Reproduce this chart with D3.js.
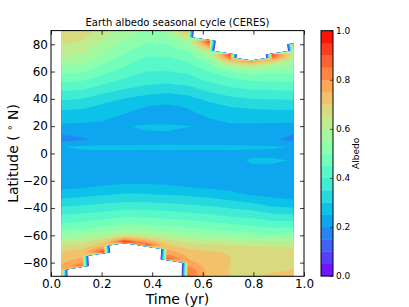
<!DOCTYPE html>
<html>
<head>
<meta charset="utf-8">
<script src="https://cdnjs.cloudflare.com/ajax/libs/d3/7.8.5/d3.min.js"></script>
<style>
  body { margin: 0; background: #fff; }
  text { font-family: "DejaVu Sans", sans-serif; fill: #000; }
</style>
</head>
<body>
<svg id="chart" width="409" height="307"></svg>
<script>
'use strict';

// monthly midpoints (fraction of year)
var times = [0.0417, 0.125, 0.2083, 0.2917, 0.375, 0.4583, 0.5417, 0.625, 0.7083, 0.7917, 0.875, 0.9583];

// latitude rows, south to north (finer near the poles)
var lats = [-90, -87.5, -85, -82.5, -80, -77.5, -75, -72.5, -70, -67.5, -65, -62.5, -60,
            -55, -50, -45, -40, -35, -30, -25, -20, -15, -10, -5, 0, 5, 10, 15, 20, 25, 30, 35, 40, 45, 50, 55,
            60, 62.5, 65, 67.5, 70, 72.5, 75, 77.5, 80, 82.5, 85, 87.5, 90];

// zonal mean albedo per month, one value per latitude row (null = polar night, no data)
var m01 = [0.79, 0.78, 0.77, 0.757, 0.745, 0.732, 0.72, 0.703, 0.685, 0.655, 0.62, 0.585, 0.55,
           0.483, 0.44, 0.40, 0.358, 0.315, 0.275, 0.24, 0.225, 0.22, 0.225, 0.235, 0.24, 0.249, 0.185, 0.205, 0.24, 0.265, 0.29, 0.322, 0.357, 0.395, 0.435, 0.475,
           0.52, 0.54, 0.56, 0.58, 0.60, 0.612, 0.625, 0.637, 0.65, 0.662, 0.675, 0.688, 0.70];
var m02 = [null, null, null, 0.86, 0.80, 0.76, 0.74, 0.72, 0.70, 0.67, 0.64, 0.60, 0.565,
           0.495, 0.45, 0.41, 0.368, 0.325, 0.285, 0.248, 0.228, 0.22, 0.225, 0.235, 0.24, 0.258, 0.196, 0.208, 0.24, 0.262, 0.285, 0.315, 0.35, 0.387, 0.425, 0.463,
           0.505, 0.525, 0.545, 0.565, 0.585, 0.598, 0.61, 0.622, 0.635, 0.648, 0.66, 0.67, 0.68];
var m03 = [null, null, null, null, null, null, null, 0.92, 0.82, 0.74, 0.70, 0.64, 0.59,
           0.515, 0.465, 0.42, 0.378, 0.335, 0.295, 0.258, 0.232, 0.222, 0.225, 0.235, 0.24, 0.26, 0.21, 0.222, 0.245, 0.252, 0.268, 0.29, 0.322, 0.358, 0.395, 0.43,
           0.465, 0.48, 0.495, 0.512, 0.53, 0.542, 0.555, 0.568, 0.58, 0.592, 0.605, 0.615, 0.625];
var m04 = [null, null, null, null, null, null, null, null, null, null, 0.96, 0.78, 0.64,
           0.54, 0.485, 0.435, 0.39, 0.345, 0.305, 0.265, 0.237, 0.225, 0.225, 0.235, 0.24, 0.26, 0.212, 0.235, 0.248, 0.242, 0.252, 0.268, 0.298, 0.333, 0.37, 0.40,
           0.43, 0.443, 0.455, 0.469, 0.483, 0.497, 0.51, 0.523, 0.535, 0.548, 0.56, 0.57, 0.58];
var m05 = [null, null, null, null, null, null, null, null, null, 0.92, 0.80, 0.70, 0.62,
           0.53, 0.48, 0.43, 0.387, 0.343, 0.303, 0.265, 0.237, 0.225, 0.225, 0.235, 0.24, 0.26, 0.22, 0.247, 0.255, 0.235, 0.24, 0.252, 0.28, 0.315, 0.35, 0.375,
           0.40, 0.41, 0.42, 0.432, 0.445, 0.457, 0.47, 0.482, 0.495, 0.507, 0.52, 0.53, 0.54];
var m06 = [null, null, null, null, null, 0.90, 0.82, 0.78, 0.75, 0.71, 0.68, 0.635, 0.59,
           0.52, 0.47, 0.425, 0.38, 0.337, 0.297, 0.26, 0.235, 0.225, 0.225, 0.235, 0.24, 0.26, 0.222, 0.248, 0.256, 0.235, 0.235, 0.245, 0.268, 0.305, 0.342, 0.372,
           0.398, 0.409, 0.42, 0.432, 0.445, 0.457, 0.47, 0.485, 0.50, 0.515, 0.53, 0.545, 0.56];
var m07 = [0.86, 0.85, 0.84, 0.80, 0.77, 0.75, 0.74, 0.72, 0.70, 0.67, 0.64, 0.60, 0.565,
           0.505, 0.46, 0.415, 0.372, 0.33, 0.29, 0.252, 0.232, 0.223, 0.225, 0.235, 0.24, 0.26, 0.22, 0.245, 0.251, 0.238, 0.243, 0.255, 0.283, 0.318, 0.352, 0.382,
           0.41, 0.424, 0.438, 0.453, 0.468, 0.484, 0.50, 0.52, 0.54, 0.58, 0.64, 0.70, 0.74];
var m08 = [0.73, 0.727, 0.725, 0.725, 0.725, 0.722, 0.72, 0.708, 0.69, 0.66, 0.63, 0.59, 0.55,
           0.495, 0.45, 0.405, 0.362, 0.32, 0.28, 0.243, 0.228, 0.222, 0.225, 0.235, 0.24, 0.26, 0.215, 0.235, 0.247, 0.248, 0.263, 0.283, 0.315, 0.35, 0.385, 0.418,
           0.45, 0.47, 0.49, 0.513, 0.54, 0.58, 0.64, 0.74, 0.84, 0.92, null, null, null];
var m09 = [0.70, 0.698, 0.697, 0.70, 0.70, 0.70, 0.70, 0.695, 0.68, 0.655, 0.62, 0.58, 0.535,
           0.48, 0.435, 0.39, 0.348, 0.305, 0.265, 0.236, 0.225, 0.222, 0.23, 0.235, 0.24, 0.26, 0.21, 0.228, 0.244, 0.258, 0.278, 0.305, 0.337, 0.373, 0.41, 0.447,
           0.50, 0.55, 0.62, 0.72, 0.84, 0.93, null, null, null, null, null, null, null];
var m10 = [0.695, 0.69, 0.685, 0.682, 0.68, 0.68, 0.68, 0.677, 0.672, 0.645, 0.61, 0.57, 0.525,
           0.47, 0.425, 0.38, 0.335, 0.29, 0.245, 0.232, 0.225, 0.225, 0.245, 0.255, 0.24, 0.258, 0.205, 0.222, 0.242, 0.262, 0.285, 0.315, 0.35, 0.387, 0.425, 0.465,
           0.53, 0.58, 0.66, 0.82, null, null, null, null, null, null, null, null, null];
var m11 = [0.71, 0.70, 0.69, 0.685, 0.68, 0.677, 0.675, 0.672, 0.668, 0.635, 0.60, 0.56, 0.515,
           0.455, 0.405, 0.36, 0.31, 0.265, 0.24, 0.23, 0.225, 0.228, 0.245, 0.255, 0.24, 0.255, 0.208, 0.218, 0.24, 0.262, 0.287, 0.318, 0.353, 0.39, 0.428, 0.468,
           0.51, 0.55, 0.60, 0.70, 0.84, 0.92, null, null, null, null, null, null, null];
var m12 = [0.73, 0.715, 0.70, 0.692, 0.685, 0.68, 0.675, 0.67, 0.665, 0.64, 0.61, 0.575, 0.535,
           0.46, 0.405, 0.352, 0.302, 0.253, 0.238, 0.228, 0.225, 0.225, 0.232, 0.248, 0.24, 0.248, 0.185, 0.203, 0.238, 0.262, 0.288, 0.32, 0.355, 0.393, 0.432, 0.472,
           0.515, 0.535, 0.555, 0.578, 0.60, 0.64, 0.70, 0.77, 0.86, null, null, null, null];

// contour levels and tick labels
var levels = [0, 0.05, 0.1, 0.15, 0.2, 0.25, 0.3, 0.35, 0.4, 0.45, 0.5,
              0.55, 0.6, 0.65, 0.7, 0.75, 0.8, 0.85, 0.9, 0.95, 1.0];
var xTicks = [0, 0.2, 0.4, 0.6, 0.8, 1.0];
var yTicks = [-80, -60, -40, -20, 0, 20, 40, 60, 80];
var cbTicks = [0, 0.2, 0.4, 0.6, 0.8, 1.0];

var FILL = -2; // stand-in value for the masked polar-night cells

// matplotlib "rainbow" colormap
function rainbow(v) {
  var clip = function (c) { return Math.round(255 * Math.max(0, Math.min(1, c))); };
  return d3.rgb(clip(Math.abs(2 * v - 0.5)), clip(Math.sin(Math.PI * v)), clip(Math.cos(Math.PI * v / 2))).toString();
}

var plot = { left: 51, right: 304, top: 30.6, bottom: 276.3 };

var svg = d3.select('#chart');

var x = d3.scaleLinear().domain([0, 1]).range([plot.left, plot.right]);
var y = d3.scaleLinear().domain([-90, 90]).range([plot.bottom, plot.top]);

// grid for d3.contours: x = month index, y = latitude row index
var monthCols = [m01, m02, m03, m04, m05, m06, m07, m08, m09, m10, m11, m12];
var nx = times.length, ny = lats.length;
var values = [];
lats.forEach(function (lat, j) {
  monthCols.forEach(function (col) {
    values.push(col[j] === null ? FILL : col[j]);
  });
});

// contour coordinates -> data space (rows are not evenly spaced)
var colToTime = d3.scaleLinear().domain([0.5, nx - 0.5]).range([times[0], times[nx - 1]]);
var rowToLat = d3.scaleLinear()
  .domain(lats.map(function (d, j) { return j + 0.5; }))
  .range(lats);
var proj = d3.geoTransform({
  point: function (px, py) { this.stream.point(x(colToTime(px)), y(rowToLat(py))); }
});
var path = d3.geoPath(proj);

var bandLows = levels.slice(0, -1);
var contours = d3.contours().size([nx, ny]).thresholds(bandLows)(values);

svg.append('clipPath')
  .attr('id', 'dataClip')
  .append('rect')
  .attr('x', x(times[0]))
  .attr('y', y(90))
  .attr('width', x(times[nx - 1]) - x(times[0]))
  .attr('height', y(-90) - y(90));

svg.append('g')
  .attr('clip-path', 'url(#dataClip)')
  .selectAll('path')
  .data(contours)
  .enter().append('path')
  .attr('d', path)
  .attr('fill', function (d, i) { return rainbow((levels[i] + levels[i + 1]) / 2); })
  .attr('stroke', 'none');

// axes, ticks pointing inwards
var fmtY = d3.format('d');
var fmtX = d3.format('.1f');

var gLeft = svg.append('g')
  .attr('transform', 'translate(' + plot.left + ',0)')
  .call(d3.axisLeft(y).tickValues(yTicks).tickFormat(fmtY).tickSize(-4).tickPadding(3));
var gRight = svg.append('g')
  .attr('transform', 'translate(' + plot.right + ',0)')
  .call(d3.axisRight(y).tickValues(yTicks).tickFormat('').tickSize(-4));
var gBottom = svg.append('g')
  .attr('transform', 'translate(0,' + plot.bottom + ')')
  .call(d3.axisBottom(x).tickValues(xTicks).tickFormat(fmtX).tickSize(-4).tickPadding(3.5));
var gTop = svg.append('g')
  .attr('transform', 'translate(0,' + plot.top + ')')
  .call(d3.axisTop(x).tickValues(xTicks).tickFormat('').tickSize(-4));

[gLeft, gRight, gBottom, gTop].forEach(function (g) {
  g.select('.domain').remove();
  g.selectAll('line').attr('stroke', '#000').attr('stroke-width', 0.8);
  g.selectAll('text').style('font-size', '12px').attr('fill', '#000');
});

svg.append('rect')
  .attr('x', plot.left)
  .attr('y', plot.top)
  .attr('width', plot.right - plot.left)
  .attr('height', plot.bottom - plot.top)
  .attr('fill', 'none')
  .attr('stroke', '#000')
  .attr('stroke-width', 1);

// titles
svg.append('text')
  .attr('x', (plot.left + plot.right) / 2)
  .attr('y', 26)
  .attr('text-anchor', 'middle')
  .style('font-size', '10px')
  .text('Earth albedo seasonal cycle (CERES)');

svg.append('text')
  .attr('x', (plot.left + plot.right) / 2)
  .attr('y', 303.5)
  .attr('text-anchor', 'middle')
  .style('font-size', '14px')
  .text('Time (yr)');

var ylab = svg.append('text')
  .attr('transform', 'translate(18,' + (plot.top + plot.bottom) / 2 + ') rotate(-90)')
  .attr('text-anchor', 'middle')
  .style('font-size', '14px');
ylab.append('tspan').text('Latitude ( ');
ylab.append('tspan').attr('dy', -5).style('font-size', '10px').text('\u2218');
ylab.append('tspan').attr('dy', 5).text(' N)');

// colorbar
var cb = { left: 321, width: 12, top: 30.7, bottom: 276 };
var cbScale = d3.scaleLinear().domain([0, 1]).range([cb.bottom, cb.top]);

svg.append('g')
  .selectAll('rect')
  .data(bandLows)
  .enter().append('rect')
  .attr('x', cb.left)
  .attr('y', function (d, i) { return cbScale(levels[i + 1]); })
  .attr('width', cb.width)
  .attr('height', function (d, i) { return cbScale(levels[i]) - cbScale(levels[i + 1]) + 0.3; })
  .attr('fill', function (d, i) { return rainbow((levels[i] + levels[i + 1]) / 2); });

var gCb = svg.append('g')
  .attr('transform', 'translate(' + (cb.left + cb.width) + ',0)')
  .call(d3.axisRight(cbScale).tickValues(cbTicks).tickFormat(fmtX).tickSize(-3).tickPadding(3));
gCb.select('.domain').remove();
gCb.selectAll('line').attr('stroke', '#333').attr('stroke-width', 0.8);
gCb.selectAll('text').style('font-size', '9px').attr('fill', '#000');

svg.append('rect')
  .attr('x', cb.left)
  .attr('y', cb.top)
  .attr('width', cb.width)
  .attr('height', cb.bottom - cb.top)
  .attr('fill', 'none')
  .attr('stroke', '#000')
  .attr('stroke-width', 1);

svg.append('text')
  .attr('transform', 'translate(359,' + (cb.top + cb.bottom) / 2 + ') rotate(-90)')
  .attr('text-anchor', 'middle')
  .style('font-size', '9px')
  .text('Albedo');
</script>
</body>
</html>
